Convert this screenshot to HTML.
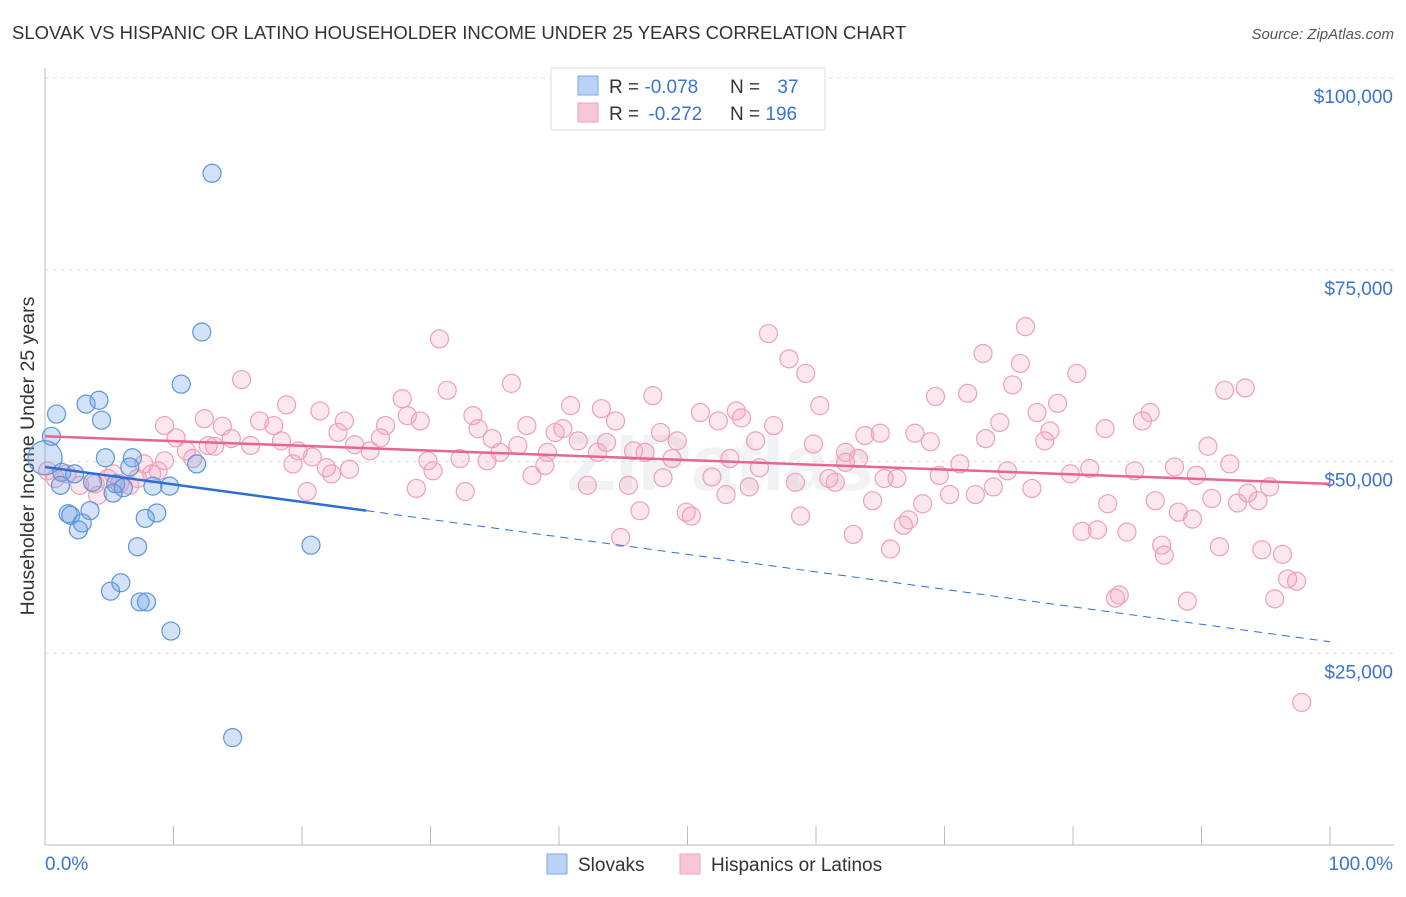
<!DOCTYPE html>
<html><head><meta charset="utf-8">
<style>
body{margin:0;background:#fff;font-family:"Liberation Sans",sans-serif;}
svg text{font-family:"Liberation Sans",sans-serif;}
</style></head>
<body>
<svg id="chart" width="1406" height="892" xmlns="http://www.w3.org/2000/svg">
<text x="12" y="39" font-size="18.5" fill="#333">SLOVAK VS HISPANIC OR LATINO HOUSEHOLDER INCOME UNDER 25 YEARS CORRELATION CHART</text>
<text x="1394" y="39" font-size="15" fill="#555" font-style="italic" text-anchor="end">Source: ZipAtlas.com</text>
<g id="grid"></g>
<text x="720" y="490" font-size="80" font-weight="bold" fill="#dfe3ea" opacity="0.45" text-anchor="middle">ZIPatlas</text>
<g id="yticks"></g>
<g id="xticks"></g>
<text transform="translate(34,456) rotate(-90)" font-size="19.5" fill="#333" text-anchor="middle">Householder Income Under 25 years</text>
<g id="pink"></g>
<g id="blue"></g>
<g id="trends"></g>
<g>
<rect x="551" y="68" width="274" height="62" fill="#fff" stroke="#ddd"/>
<rect x="578" y="76" width="20" height="19" fill="#b8d3f5" stroke="#7aaae6"/>
<rect x="578" y="103" width="20" height="19" fill="#f9c6d6" stroke="#eda0b9"/>
<text x="609" y="93" font-size="19" fill="#333">R = <tspan fill="#3a74d0">-0.078</tspan></text>
<text x="730" y="93" font-size="19" fill="#333">N = <tspan fill="#3a74d0" dx="12">37</tspan></text>
<text x="609" y="120" font-size="19" fill="#333">R = <tspan fill="#3a74d0" dx="4">-0.272</tspan></text>
<text x="730" y="120" font-size="19" fill="#333">N = <tspan fill="#3a74d0">196</tspan></text>
</g>
<g>
<rect x="547" y="854" width="20" height="20" fill="#b8d3f5" stroke="#7aaae6"/>
<text x="578" y="871" font-size="19" fill="#333">Slovaks</text>
<rect x="680" y="854" width="20" height="20" fill="#f9c6d6" stroke="#eda0b9"/>
<text x="711" y="871" font-size="19" fill="#333">Hispanics or Latinos</text>
</g>
</svg>
<script>
const yTicks=[25000,50000,75000,100000];
const yTickLabels=["$25,000","$50,000","$75,000","$100,000"];
const xTickLabels=["0.0%","100.0%"];
const blueX=[13.0,12.2,10.6,0.9,3.2,4.2,4.4,0.5,0,6.8,4.7,11.8,6.6,1.3,2.3,1.2,3.7,5.5,6.1,5.3,8.4,9.7,3.5,1.8,2.0,2.9,2.6,8.7,7.8,20.7,7.2,5.9,5.1,7.4,7.9,9.8,14.6];
const blueY=[87.6,66.9,60.1,56.2,57.5,58.0,55.4,53.3,50.5,50.5,50.5,49.7,49.3,48.6,48.4,46.9,47.3,47.1,46.6,45.9,46.8,46.8,43.6,43.2,43.0,42.0,41.1,43.3,42.6,39.1,38.9,34.2,33.1,31.7,31.7,27.9,14.0];
const pinkX=[30.7,56.3,76.3,73.0,75.9,57.9,59.2,80.3,15.3,36.3,31.3,47.3,27.8,75.3,91.8,93.4,71.8,69.3,60.3,78.8,18.8,21.4,40.9,43.3,51.0,53.8,54.2,33.3,77.2,86.0,12.4,16.7,28.2,29.2,23.3,26.5,9.3,13.8,17.8,40.3,44.4,52.4,56.7,74.3,85.4,82.5,33.7,37.5,65.0,67.7,63.8,22.8,10.2,26.1,34.8,39.7,47.9,78.2,77.8,68.9,73.2,14.5,12.7,13.2,16.0,18.4,24.1,25.3,36.8,41.5,43.7,45.8,49.2,55.3,59.8,62.3,90.5,11.0,11.5,19.7,20.8,35.4,39.1,43.0,46.7,48.8,53.3,63.3,71.2,92.2,9.3,7.7,8.8,19.3,21.9,29.8,32.3,34.4,38.9,55.6,62.3,81.3,87.9,74.9,23.7,22.3,30.2,37.9,48.1,51.9,61.0,65.3,66.3,69.6,79.8,84.8,89.6,5.3,4.9,7.2,0.2,0.8,1.7,2.7,5.8,8.3,6.6,42.2,45.4,54.8,58.4,61.5,73.8,76.8,95.3,93.6,28.9,20.4,32.7,53.0,70.4,72.4,64.4,68.3,92.8,94.4,86.4,82.7,90.8,4.1,46.3,49.9,50.3,58.8,67.2,88.2,89.3,80.7,81.9,84.2,66.8,62.9,44.8,86.9,91.4,87.1,94.7,96.3,65.8,96.7,97.4,83.6,83.3,88.9,95.7,97.8,3.9];
const pinkY=[66.0,66.7,67.6,64.1,62.8,63.4,61.5,61.5,60.7,60.2,59.3,58.6,58.2,60.0,59.3,59.6,58.9,58.5,57.3,57.6,57.4,56.6,57.3,56.9,56.4,56.6,55.7,56.0,56.4,56.4,55.6,55.3,56.0,55.3,55.3,54.7,54.7,54.6,54.7,54.3,55.3,55.3,54.7,55.1,55.3,54.3,54.3,54.7,53.7,53.7,53.4,53.8,53.1,53.1,53.0,53.8,53.8,54.0,52.7,52.6,53.0,53.0,52.1,52.0,52.1,52.7,52.2,51.4,52.1,52.7,52.5,51.4,52.7,52.7,52.3,51.2,52.0,51.4,50.4,51.4,50.6,51.2,51.2,51.2,51.2,50.4,50.4,50.4,49.7,49.7,50.1,49.7,48.8,49.7,49.2,50.1,50.4,50.1,49.5,49.2,49.9,49.1,49.3,48.8,49.0,48.4,48.8,48.2,47.9,48.0,47.8,47.8,47.8,48.2,48.4,48.8,48.2,48.4,47.8,47.8,48.8,47.8,48.4,46.9,47.1,48.4,46.9,46.9,46.9,46.7,47.3,47.3,46.7,46.5,46.7,45.9,46.5,46.1,46.1,45.7,45.7,45.7,44.9,44.5,44.6,44.9,44.9,44.5,45.2,45.6,43.6,43.4,42.9,42.9,42.4,43.4,42.5,40.9,41.1,40.8,41.7,40.5,40.1,39.1,38.9,37.8,38.5,37.9,38.6,34.7,34.4,32.6,32.2,31.8,32.1,18.6,47.1];
const pinkTrend=[53.3,47.1];
const blueTrend=[49.3,26.5];
const blueSolidEnd=25;

const NS="http://www.w3.org/2000/svg";
const X=p=>45+p*12.85;
const Y=k=>845-k*1000/25000*191.7;
function mk(tag,attrs,parent){const e=document.createElementNS(NS,tag);for(const a in attrs)e.setAttribute(a,attrs[a]);parent.appendChild(e);return e;}
const grid=document.getElementById('grid'),yt=document.getElementById('yticks'),xt=document.getElementById('xticks');
yTicks.forEach((v,i)=>{
 const y=Y(v/1000);
 const l=mk('line',{x1:45,x2:1394,y1:y,y2:y,stroke:'#ddd','stroke-dasharray':'4,4'},grid);
 
 
 const t=mk('text',{x:1393,y:y+25,'font-size':19,fill:'#3a74d0','text-anchor':'end'},yt);
 t.textContent=yTickLabels[i];
 
 
});
mk('line',{x1:45,x2:45,y1:68,y2:845,stroke:'#bbb'},xt);
mk('line',{x1:45,x2:1394,y1:845,y2:845,stroke:'#bbb'},xt);
for(let i=0;i<=10;i++){const x=X(i*10);const tk=mk('line',{x1:x,x2:x,y1:826,y2:845,stroke:'#bbb'},xt);
 
 }
const xl0=mk('text',{x:45,y:870,'font-size':19,fill:'#3a74d0'},xt);xl0.textContent=xTickLabels[0];


const xl1=mk('text',{x:1393,y:870,'font-size':19,fill:'#3a74d0','text-anchor':'end'},xt);xl1.textContent=xTickLabels[1];



const pg=document.getElementById('pink');
pinkX.forEach((x,i)=>{const c=mk('circle',{cx:X(x),cy:Y(pinkY[i]),r:9,fill:'rgba(244,160,188,0.25)',stroke:'#eda0b9','stroke-width':1.2},pg);
 
 });
const bg=document.getElementById('blue');
blueX.forEach((x,i)=>{const c=mk('circle',{cx:X(x),cy:Y(blueY[i]),r:x===0?17:9,fill:'rgba(110,160,230,0.3)',stroke:'#5b95dc','stroke-width':1.2},bg);
 
 });
const tg=document.getElementById('trends');
const pl=mk('line',{x1:X(0),y1:Y(pinkTrend[0]),x2:X(100),y2:Y(pinkTrend[1]),stroke:'#e5668f','stroke-width':2.5},tg);


const bAt=p=>blueTrend[0]+(blueTrend[1]-blueTrend[0])*p/100;
const bl=mk('line',{x1:X(0),y1:Y(bAt(0)),x2:X(blueSolidEnd),y2:Y(bAt(blueSolidEnd)),stroke:'#2c6fd4','stroke-width':2.5},tg);


const bd=mk('line',{x1:X(blueSolidEnd),y1:Y(bAt(blueSolidEnd)),x2:X(100),y2:Y(bAt(100)),stroke:'#2c6fd4','stroke-width':1,'stroke-dasharray':'8,6'},tg);


</script>
</body></html>
